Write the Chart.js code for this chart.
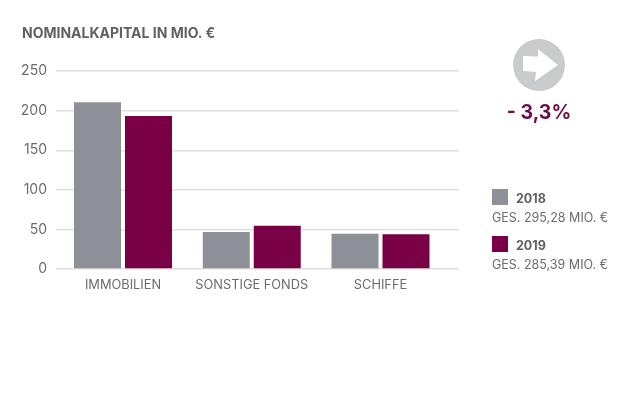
<!DOCTYPE html>
<html>
<head>
<meta charset="utf-8">
<style>
  body { margin: 0; background: #fff; font-family: Inter, sans-serif; }
  #wrap { position: relative; width: 620px; height: 413px; overflow: hidden; }
  #wrap div, #wrap svg { position: absolute; white-space: nowrap; }
  #wrap #legend { left: 0; top: 0; }
  .title { left: 22px; top: 25px; font-size: 14px; font-weight: 700; color: #5f6163; line-height: 16px; }
  .change { left: 479px; width: 120px; top: 100px; text-align: center; font-size: 19.5px; font-weight: 700; color: #6f0a45; line-height: 24px; }
  .swatch { left: 492px; width: 16px; height: 16px; }
  .year { left: 516px; font-size: 12.5px; font-weight: 700; color: #5f6163; line-height: 16px; }
  .total { left: 492px; font-size: 12.5px; color: #6a6c6e; line-height: 16px; }
</style>
</head>
<body>
<div id="wrap">
  <canvas id="chart" width="620" height="413"></canvas>
  <div class="title">NOMINALKAPITAL IN MIO. €</div>
  <svg style="left:513px;top:39px" width="52" height="52" viewBox="513 39 52 52">
    <circle cx="539" cy="65" r="26" fill="#c9cbcc"></circle>
    <polygon points="523,56 538,56.5 538,49 558,65 535,81 536,72 523,71" fill="#fff"></polygon>
  </svg>
  <div class="change">- 3,3%</div>
  <div id="legend"></div>
</div>

<script src="https://cdn.jsdelivr.net/npm/chart.js@4"></script>
<script>
const categories = ["IMMOBILIEN", "SONSTIGE FONDS", "SCHIFFE"];
const values2018 = [210.5, 46.7, 44.6];
const values2019 = [193.2, 54.7, 43.8];
const yTicks = [0, 50, 100, 150, 200, 250];
const years = ["2018", "2019"];
const totals = ["GES. 295,28 MIO. €", "GES. 285,39 MIO. €"];

const grey = "#8e9097";
const maroon = "#7a0045";

// legend on the right
const legend = document.getElementById("legend");
[189, 236].forEach((top, i) => {
  legend.innerHTML +=
    `<div class="swatch" style="top:${top}px;background:${i ? maroon : grey}"></div>` +
    `<div class="year" style="top:${top + 2}px">${years[i]}</div>` +
    `<div class="total" style="top:${top + 21}px">${totals[i]}</div>`;
});

// x is linear so the groups can sit off centre between the grid line ends
const toPoints = (list) => list.map((v, i) => ({ x: i, y: v }));

new Chart("chart", {
  type: "bar",
  data: {
    datasets: [
      { label: years[0], data: toPoints(values2018), backgroundColor: grey },
      { label: years[1], data: toPoints(values2019), backgroundColor: maroon },
    ],
  },
  options: {
    responsive: false,
    animation: false,
    categoryPercentage: 102 / 128.75,
    barPercentage: 47 / 51,
    layout: { padding: { left: 0, top: 71, right: 161, bottom: 0 } },
    plugins: { legend: { display: false }, tooltip: { enabled: false } },
    scales: {
      x: {
        type: "linear",
        offset: false,
        min: -67 / 128.75,
        max: 2 + 78.5 / 128.75,
        grid: { display: false },
        border: { display: false },
        afterBuildTicks: (axis) => {
          axis.ticks = categories.map((c, i) => ({ value: i }));
        },
        afterFit: (axis) => {
          axis.height = 144;
        },
        ticks: {
          autoSkip: false,
          maxRotation: 0,
          padding: 0,
          color: "#6a6c6e",
          font: { family: "Inter", size: 12.8 },
          callback: (v) => categories[v],
        },
      },
      y: {
        min: 0,
        max: 250,
        border: { display: false },
        grid: { color: "#dfdfdf", lineWidth: 1.4, drawTicks: false },
        afterBuildTicks: (axis) => {
          axis.ticks = yTicks.map((v) => ({ value: v }));
        },
        afterFit: (axis) => {
          axis.width = 56;
        },
        ticks: {
          padding: 9,
          color: "#6a6c6e",
          font: { family: "Inter", size: 14 },
        },
      },
    },
  },
});
</script>
</body>
</html>
